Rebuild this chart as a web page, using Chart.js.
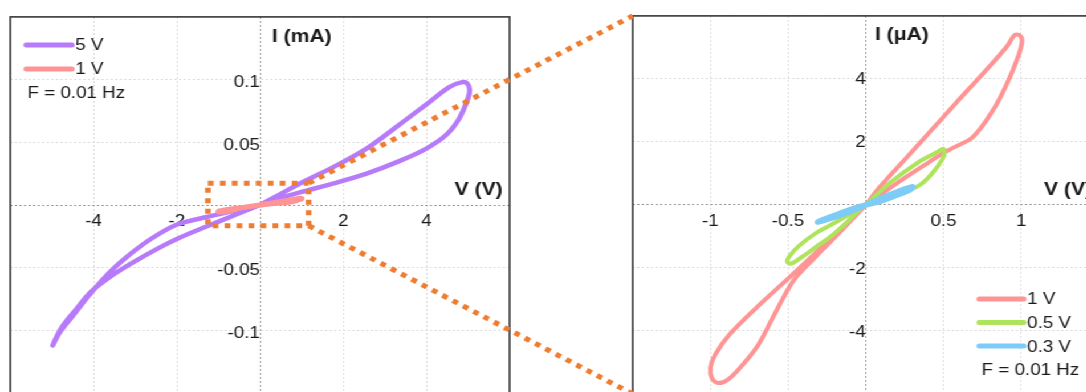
<!DOCTYPE html>
<html>
<head>
<meta charset="utf-8">
<script src="https://cdn.jsdelivr.net/npm/chart.js@4.4.1/dist/chart.umd.min.js"></script>
<style>
  html, body { margin: 0; padding: 0; background: #fff; overflow: hidden; width: 1086px; height: 392px; }
  /* the source figure is slightly stretched horizontally */
  #fig { position: absolute; left: 0; top: 0; width: 975px; height: 410px; transform: scaleX(1.14); transform-origin: 0 0; }
  #fig canvas { position: absolute; top: 0; }
</style>
</head>
<body>
<div id="fig">
  <canvas id="left" width="460" height="410" style="left:0px;width:460px;height:410px"></canvas>
  <canvas id="right" width="430" height="410" style="left:545px;width:430px;height:410px"></canvas>
  <canvas id="links" width="975" height="410" style="left:0px;width:975px;height:410px"></canvas>
</div>
<script>
// ---- data: left panel, 5 V sweep (V, mA)
const v5 = [0, 0.5, 0.96, 1.75, 2.56, 3.35, 4.07, 4.55, 4.86, 4.98, 5.04, 5.0, 4.79, 4.48, 4.0, 3.35, 2.56, 1.75, 0.96, 0.4,
            0, -0.6, -1.27, -1.99, -2.63, -3.11, -3.59, -4.07, -4.5, -4.8, -4.98,
            -4.75, -4.4, -4.07, -3.59, -3.11, -2.47, -1.92, -1.27, -0.6, 0];
const i5 = [0, 0.0088, 0.0172, 0.030, 0.045, 0.064, 0.082, 0.094, 0.098, 0.097, 0.092, 0.085, 0.069, 0.056, 0.045, 0.035, 0.025, 0.017, 0.010, 0.0045,
            0, -0.0045, -0.0095, -0.0156, -0.0273, -0.039, -0.053, -0.0705, -0.0885, -0.101, -0.112,
            -0.097, -0.0825, -0.0695, -0.057, -0.047, -0.035, -0.026, -0.017, -0.008, 0];

// ---- data: right panel (V, µA)
const v1 = [0, 0.09, 0.26, 0.42, 0.59, 0.75, 0.908, 0.96, 0.995, 1.005, 0.98, 0.91, 0.82, 0.69, 0.56, 0.50, 0.41, 0.26, 0.11,
            0, -0.17, -0.33, -0.49, -0.70, -0.88, -0.97, -1.0, -0.99, -0.95, -0.89, -0.81, -0.70, -0.60, -0.51, -0.45, -0.33, -0.17, 0];
const i1 = [0, 0.57, 1.49, 2.36, 3.29, 4.15, 5.03, 5.40, 5.36, 5.18, 4.71, 3.87, 3.02, 2.16, 1.81, 1.65, 1.37, 0.89, 0.38,
            0, -0.78, -1.55, -2.29, -3.24, -4.13, -4.76, -5.17, -5.5, -5.65, -5.55, -5.17, -4.5, -3.59, -2.76, -2.3, -1.68, -0.88, 0];
const v05 = [0, 0.155, 0.33, 0.46, 0.50, 0.505, 0.49, 0.43, 0.35, 0.24, 0.11,
             0, -0.12, -0.23, -0.32, -0.41, -0.48, -0.505, -0.49, -0.43, -0.32, -0.19, -0.1, 0];
const i05 = [0, 0.70, 1.33, 1.68, 1.78, 1.62, 1.43, 1.02, 0.64, 0.38, 0.12,
             0, -0.55, -1.02, -1.33, -1.65, -1.86, -1.80, -1.62, -1.3, -0.89, -0.54, -0.28, 0];
const v03 = [0, 0.1, 0.2, 0.30, 0.28, 0.18, 0.08, 0, -0.1, -0.2, -0.31, -0.2, -0.1, 0];
const i03 = [0, 0.22, 0.41, 0.58, 0.47, 0.28, 0.1, 0, -0.15, -0.33, -0.54, -0.39, -0.21, 0];

const seriesLabels = ['5 V', '1 V', '0.5 V', '0.3 V'];
const noteText = 'F = 0.01 Hz';

// ---- ticks
const leftXTicks = [-6, -4, -2, 0, 2, 4, 6];
const leftXLabels = ['', '-4', '-2', '', '2', '4', ''];
const leftYTicks = [-0.15, -0.1, -0.05, 0, 0.05, 0.1, 0.15];
const leftYLabels = ['', '-0.1', '-0.05', '', '0.05', '0.1', ''];
const rightXTicks = [-1.5, -1, -0.5, 0, 0.5, 1, 1.5];
const rightXLabels = ['', '-1', '-0.5', '', '0.5', '1', ''];
const rightYTicks = [-6, -4, -2, 0, 2, 4, 6];
const rightYLabels = ['', '-4', '-2', '', '2', '4', ''];

// zoomed region of the left panel (V, mA)
const zoomV = [-1.25, 1.17];
const zoomI = [-0.0165, 0.0174];

const FONT = '"Liberation Sans", Arial, sans-serif';
const ORANGE = '#EE7D31';

const pts = (xs, ys, k = 1) => xs.map((x, i) => ({x: x, y: ys[i] * k}));

function line(label, data, color, width, order) {
  return {label, data, showLine: true, borderColor: color, backgroundColor: color, borderWidth: width,
          pointRadius: 0, tension: 0.35, borderCapStyle: 'round', borderJoinStyle: 'round', order};
}

function axis(min, max, ticks, labels, pad, shift) {
  return {
    type: 'linear', min, max,
    afterBuildTicks: s => { s.ticks = ticks.map(v => ({value: v})); },
    ticks: {callback: (v, i) => labels[i], color: '#1a1a1a', padding: pad, labelOffset: shift || 0,
            font: {family: FONT, size: 16.5}},
    grid: {color: c => (c.tick && c.tick.value === 0 ? '#9a9a9a' : '#dddddd'), lineWidth: 1, drawTicks: false},
    border: {display: false, dash: [2, 2]}
  };
}

// frame, zoom box, axis titles, legend
const decor = {
  id: 'decor',
  afterDatasetsDraw(chart, args, o) {
    const {ctx, chartArea: a} = chart;
    const xs = chart.scales.x, ys = chart.scales.y;
    ctx.save();
    if (o.box) {
      const x0 = xs.getPixelForValue(o.box.v[0]), x1 = xs.getPixelForValue(o.box.v[1]);
      const y0 = ys.getPixelForValue(o.box.i[1]), y1 = ys.getPixelForValue(o.box.i[0]);
      ctx.strokeStyle = ORANGE; ctx.lineWidth = 5; ctx.setLineDash([5, 5.5]);
      ctx.strokeRect(x0, y0, x1 - x0, y1 - y0);
      ctx.setLineDash([]);
    }
    ctx.strokeStyle = '#383838'; ctx.lineWidth = 1.6;
    ctx.strokeRect(a.left, a.top, a.right - a.left, a.bottom - a.top);

    ctx.fillStyle = '#1a1a1a';
    ctx.textBaseline = 'middle';
    ctx.font = 'bold 18.5px ' + FONT;
    ctx.textAlign = 'left';
    ctx.fillText(o.yTitle, xs.getPixelForValue(0) + o.yTitleDx, a.top + o.yTitleDy);
    ctx.textAlign = 'right';
    ctx.fillText('V (V)', a.right - 6, ys.getPixelForValue(0) - 15);

    ctx.font = '16.5px ' + FONT;
    ctx.textAlign = 'left';
    const L = o.legend;
    chart.data.datasets.forEach((d, k) => {
      const y = a.top + L.y + k * L.gap;
      ctx.strokeStyle = d.borderColor; ctx.lineWidth = 5; ctx.lineCap = 'round';
      ctx.beginPath(); ctx.moveTo(a.left + L.x0, y); ctx.lineTo(a.left + L.x1, y); ctx.stroke();
      ctx.fillText(d.label, a.left + L.tx, y + 1);
    });
    ctx.fillText(noteText, a.left + L.nx, a.top + L.y + chart.data.datasets.length * L.gap + 1);
    ctx.restore();
  }
};

const common = {
  responsive: false, animation: false, devicePixelRatio: 1,
  events: []
};

const leftChart = new Chart(document.getElementById('left'), {
  type: 'scatter',
  data: {datasets: [
    line(seriesLabels[0], pts(v5, i5), '#B77BFA', 4.5, 2),
    line(seriesLabels[1], pts(v1, i1, 0.001), '#FF9494', 5, 1)
  ]},
  options: Object.assign({}, common, {
    layout: {padding: {left: 9, right: 13, top: 13, bottom: 13}},
    scales: {
      x: Object.assign(axis(-6, 6, leftXTicks, leftXLabels, 7), {position: {y: 0}}),
      y: Object.assign(axis(-0.15, 0.15, leftYTicks, leftYLabels, 7, 3), {position: {x: 0}})
    },
    plugins: {
      legend: {display: false}, tooltip: {enabled: false},
      decor: {yTitle: 'I (mA)', yTitleDx: 10.5, yTitleDy: 20, box: {v: zoomV, i: zoomI},
              legend: {x0: 14, x1: 54, tx: 57, nx: 15, y: 28, gap: 24}}
    }
  }),
  plugins: [decor]
});

const rightChart = new Chart(document.getElementById('right'), {
  type: 'scatter',
  data: {datasets: [
    line(seriesLabels[1], pts(v1, i1), '#FF9494', 4, 3),
    line(seriesLabels[2], pts(v05, i05), '#AEE35C', 4, 2),
    line(seriesLabels[3], pts(v03, i03), '#7FCBF7', 5.5, 1)
  ]},
  options: Object.assign({}, common, {
    layout: {padding: {left: 10, right: 11, top: 15, bottom: 16}},
    scales: {
      x: Object.assign(axis(-1.5, 1.5, rightXTicks, rightXLabels, 7), {position: {y: 0}}),
      y: Object.assign(axis(-6, 6, rightYTicks, rightYLabels, 6, 1), {position: {x: 0}})
    },
    plugins: {
      legend: {display: false}, tooltip: {enabled: false},
      decor: {yTitle: 'I (μA)', yTitleDx: 8, yTitleDy: 19,
              legend: {x0: 304, x1: 343, tx: 346, nx: 306, y: 283, gap: 23.6}}
    }
  }),
  plugins: [decor]
});

// dotted connectors from the zoom box to the right panel
(function () {
  const lc = document.getElementById('left'), rc = document.getElementById('right');
  const ctx = document.getElementById('links').getContext('2d');
  const bx = lc.offsetLeft + leftChart.scales.x.getPixelForValue(zoomV[1]);
  const byTop = leftChart.scales.y.getPixelForValue(zoomI[1]);
  const byBot = leftChart.scales.y.getPixelForValue(zoomI[0]);
  const ra = rightChart.chartArea;
  ctx.strokeStyle = ORANGE; ctx.lineWidth = 5; ctx.setLineDash([5, 5.5]);
  ctx.beginPath();
  ctx.moveTo(bx, byTop); ctx.lineTo(rc.offsetLeft + ra.left, ra.top);
  ctx.moveTo(bx, byBot); ctx.lineTo(rc.offsetLeft + ra.left, ra.bottom);
  ctx.stroke();
})();
</script>
</body>
</html>
